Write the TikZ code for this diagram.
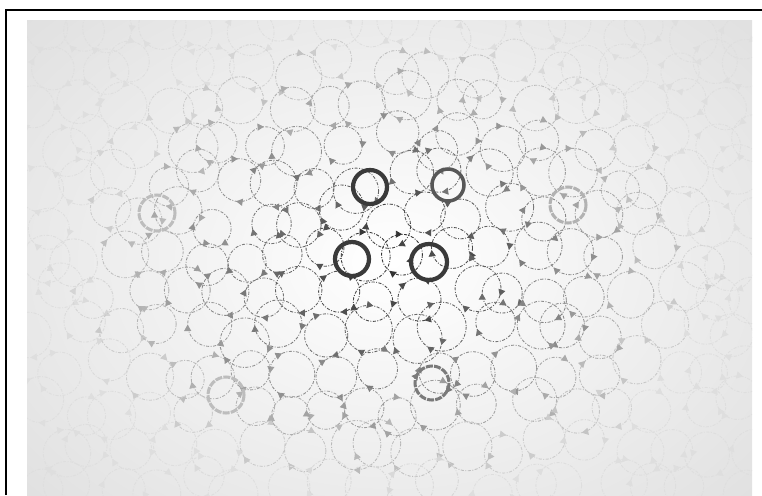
\documentclass[tikz,border=0pt]{standalone}
\usepackage{xcolor}
\definecolor{fieldgray}{HTML}{E0E0E0}
\definecolor{ringdark}{HTML}{3A3A3A}
\definecolor{ringmid}{HTML}{575757}
\usetikzlibrary{arrows.meta,decorations.markings}

\begin{document}
\begin{tikzpicture}[
  x=0.03cm, y=-0.03cm,
  frame/.style={line width=2.2pt, black},
  ring/.style={line width=0.75pt, dash pattern=on 2.6pt off 1.3pt on 0.8pt off 1.3pt},
  tipped/.style 2 args={postaction={decorate, decoration={markings,
      mark=at position #1 with {\arrow{Triangle[length=5.5pt,width=6pt]}},
      mark=at position #2 with {\arrow{Triangle[length=5.5pt,width=6pt]}}}}},
  halo/.style={line width=2.6pt, dash pattern=on 6pt off 1pt},
  hub/.style={line width=3.6pt, ringdark},
]
\useasboundingbox (0,0) rectangle (762,495);

% ---------- the gray field, light in the middle
\fill[fieldgray] (27,20) rectangle (752,495);
\begin{scope}
  \clip (27,20) rectangle (752,495);
  \shade[inner color=white, outer color=fieldgray] (392,262) ellipse [x radius=500, y radius=360];

  % ---------- the mesh of dashed rings, fading outwards
  \pgfmathsetseed{11}
  \foreach \gx in {0,...,17} {
    \foreach \gy in {0,...,12} {
      \pgfmathsetmacro\cx{38+41*\gx+13*rand+mod(\gy,2)*20}
      \pgfmathsetmacro\cy{28+38*\gy+11*rand}
      \pgfmathsetmacro\dd{sqrt(((\cx-392)/320)^2+((\cy-262)/230)^2)}
      \pgfmathtruncatemacro\tone{max(13,84-70*\dd)}
      \pgfmathsetmacro\rr{19+6*rnd}
      \pgfmathsetmacro\pa{0.02+0.45*rnd}
      \pgfmathsetmacro\pb{\pa+0.3+0.2*rnd}
      \draw[ring, draw=black!\tone, tipped={\pa}{\pb}] (\cx,\cy) circle[radius=\rr];
    }
  }

  % ---------- half-bold rings further out
  \draw[halo, black!26] (157,213) circle[radius=18];
  \draw[halo, black!30] (568,205) circle[radius=18];
  \draw[halo, black!26] (226,395) circle[radius=18];
  \draw[halo, black!52, tipped={0.1}{0.6}] (432,383) circle[radius=17];
\end{scope}

% ---------- the four bold rings
\draw[hub] (370,187) circle[radius=17];
\draw[hub, ringmid, line width=3pt] (448,185) circle[radius=16];
\draw[hub] (352,259) circle[radius=17];
\draw[hub, tipped={0.3}{0.55}] (429,262) circle[radius=18];

% ---------- frame
\draw[frame] (6,495) -- (6,10) -- (762,10);
\end{tikzpicture}
\end{document}
